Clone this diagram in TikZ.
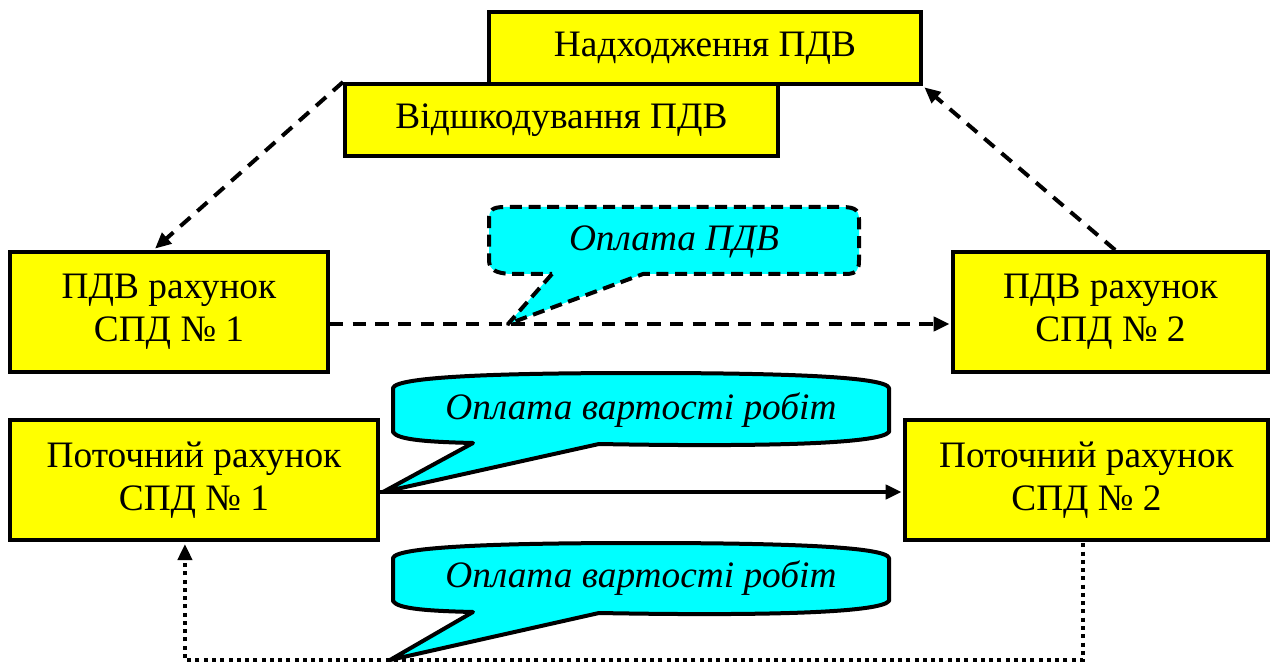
\documentclass[tikz,border=0pt]{standalone}
\usepackage{fontspec}
\setmainfont{Liberation Serif}
\usetikzlibrary{arrows.meta}
\definecolor{boxyellow}{HTML}{FFFF00}
\definecolor{calloutcyan}{HTML}{00FFFF}
\begin{document}
\begin{tikzpicture}[x=0.75pt,y=-0.75pt,
  acct/.style={draw=black,fill=boxyellow,line width=3pt,inner sep=0pt,
    align=center,font=\fontsize{28}{32}\selectfont},
  note/.style={inner sep=0pt,font=\fontsize{28}{32}\selectfont\itshape},
  bubble/.style={fill=calloutcyan,draw=black,line width=3pt,line join=round},
  dashline/.style={line width=3pt,dash pattern=on 10pt off 7pt},
  dotline/.style={line width=3pt,dash pattern=on 3pt off 3.2pt},
  tip/.style={-{Triangle[length=12pt,width=10.5pt]}}]
\useasboundingbox (0,0) rectangle (1272,663);

% account boxes
\node[acct,minimum width=324pt,minimum height=54pt] (nadh) at (705,48) {Надходження ПДВ};
\node[acct,minimum width=324.75pt,minimum height=54pt] (vid) at (561.5,120) {Відшкодування ПДВ};
\node[acct,minimum width=238.5pt,minimum height=90pt] (pdv1) at (169,312) {ПДВ рахунок\\СПД № 1};
\node[acct,minimum width=236.25pt,minimum height=90pt] (pdv2) at (1110.5,312) {ПДВ рахунок\\СПД № 2};
\node[acct,minimum width=276pt,minimum height=90pt] (pot1) at (194,480) {Поточний рахунок\\СПД № 1};
\node[acct,minimum width=272.25pt,minimum height=90pt] (pot2) at (1086.5,480) {Поточний рахунок\\СПД № 2};

% VAT flows
\draw[dashline,tip] (vid.north west) -- ([xshift=-10.5pt,yshift=1pt]pdv1.north);
\draw[dashline,tip] ([xshift=3.5pt]pdv2.north) -- ([xshift=1pt,yshift=-1pt]nadh.south east);
\draw[dashline,tip] ([yshift=-9pt]pdv1.east) -- ([yshift=-9pt,xshift=-1pt]pdv2.west);

% payment of the works
\draw[line width=3pt,tip] ([yshift=-9pt]pot1.east) -- ([yshift=-9pt,xshift=-1pt]pot2.west);
\coordinate (dr) at ([xshift=-2.6pt]pot2.south |- 0,660);
\coordinate (dl) at ([xshift=-6.8pt]pot1.south |- 0,660);
\draw[dotline,line join=miter] ([xshift=-2.6pt,yshift=-1pt]pot2.south) -- (dr) -- (dl)
  -- ([xshift=-6.8pt,yshift=-12pt]pot1.south);
\draw[tip,line width=3pt] ([xshift=-6.8pt,yshift=-12pt]pot1.south) -- ([xshift=-6.8pt,yshift=-1.5pt]pot1.south);

% callout: VAT payment
\draw[bubble,dash pattern=on 9pt off 5pt]
  (552,274) -- (508,324) -- (643,274) -- (846,274)
  .. controls (858,274) and (859,268) .. (859,260)
  -- (859,219) .. controls (859,208) and (852,207) .. (840,207)
  -- (505,207) .. controls (492,207) and (489,210) .. (489,220)
  -- (489,260) .. controls (489,270) and (496,273) .. (510,274) -- cycle;
\node[note] (cpdv) at (674,242) {Оплата ПДВ};

% callout: payment of the works (upper)
\draw[bubble]
  (473,443) -- (383,492) -- (599,444)
  .. controls (760,447) and (880,444) .. (889,432)
  -- (889,388)
  .. controls (886,377) and (790,373) .. (641,373)
  .. controls (492,373) and (396,377) .. (393,388)
  -- (393,432)
  .. controls (397,440) and (430,442) .. (473,443) -- cycle;
\node[note] (cwork1) at (641,410) {Оплата вартості робіт};

% callout: payment of the works (lower)
\draw[bubble]
  (473,612) -- (390,660) -- (599,613)
  .. controls (760,616) and (880,613) .. (889,601)
  -- (889,558)
  .. controls (886,547) and (790,543) .. (641,543)
  .. controls (492,543) and (396,547) .. (393,558)
  -- (393,601)
  .. controls (397,609) and (430,611) .. (473,612) -- cycle;
\node[note] (cwork2) at (641,578) {Оплата вартості робіт};
\end{tikzpicture}
\end{document}
